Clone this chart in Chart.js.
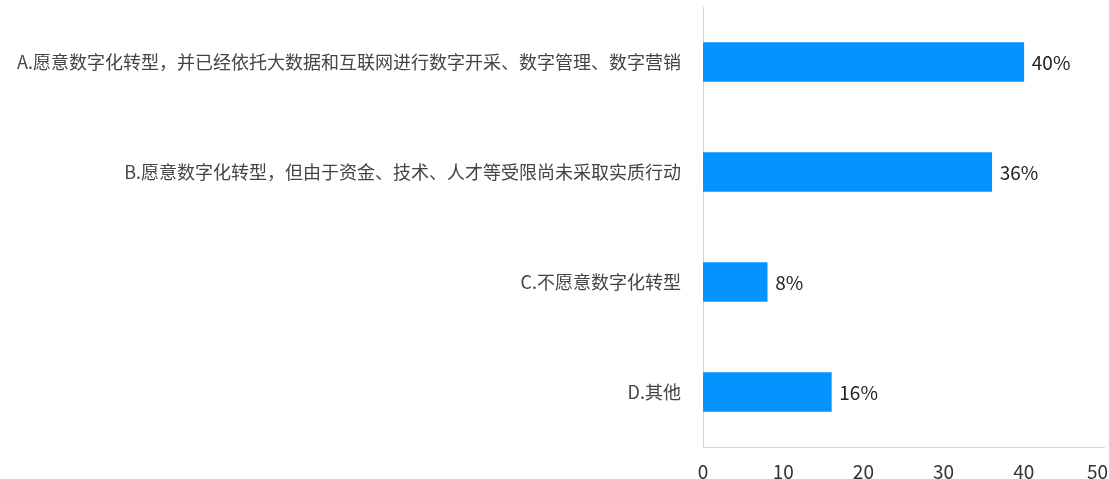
<!DOCTYPE html>
<html>
<head>
<meta charset="utf-8">
<script src="https://cdn.jsdelivr.net/npm/chart.js@4"></script>
<style>
  html, body { margin: 0; padding: 0; background: #fff; }
  #wrap { width: 1109px; height: 479px; position: relative; }
</style>
</head>
<body>
<div id="wrap"><canvas id="c" width="1109" height="479"></canvas></div>
<script>
// Survey answers (percent of respondents)
const categories = [
  'A.愿意数字化转型，并已经依托大数据和互联网进行数字开采、数字管理、数字营销',
  'B.愿意数字化转型，但由于资金、技术、人才等受限尚未采取实质行动',
  'C.不愿意数字化转型',
  'D.其他'
];
const shares = [40, 36, 8, 16];
const xTicks = [0, 10, 20, 30, 40, 50];

const FONT = '"Noto Sans CJK SC", "Noto Sans", sans-serif';
const AXIS_LINE = '#ccd6eb';

// Writes "NN%" just right of each bar end
const valueLabels = {
  id: 'valueLabels',
  afterDatasetsDraw(chart) {
    const ctx = chart.ctx;
    const meta = chart.getDatasetMeta(0);
    ctx.save();
    ctx.font = '19px ' + FONT;
    ctx.fillStyle = '#222';
    ctx.textAlign = 'left';
    ctx.textBaseline = 'middle';
    meta.data.forEach((bar, i) => {
      ctx.fillText(shares[i] + '%', bar.x + 8, bar.y + 1);
    });
    ctx.restore();
  }
};

new Chart(document.getElementById('c'), {
  type: 'bar',
  data: {
    labels: categories,
    datasets: [{
      data: shares,
      backgroundColor: '#0593ff',
      borderWidth: 0,
      barThickness: 39
    }]
  },
  options: {
    indexAxis: 'y',
    responsive: false,
    animation: false,
    layout: { padding: { top: 7, right: 5, left: 0, bottom: 0 } },
    plugins: { legend: { display: false }, tooltip: { enabled: false } },
    scales: {
      x: {
        min: 0,
        max: 50,
        afterBuildTicks(scale) { scale.ticks = xTicks.map(v => ({ value: v })); },
        afterFit(scale) { scale.height = 32; scale.paddingLeft = 0; scale.paddingRight = 0; },
        grid: { display: false, drawTicks: false },
        border: { display: true, color: AXIS_LINE, width: 1 },
        ticks: {
          font: { family: FONT, size: 19 }, color: '#333', padding: 13, maxRotation: 0,
          // keep the last label inside the canvas edge
          callback: (v, i, arr) => (i === arr.length - 1 ? v + '   ' : String(v))
        }
      },
      y: {
        afterFit(scale) { scale.width = 703; scale.paddingTop = 0; scale.paddingBottom = 0; },
        grid: { display: false, drawTicks: false },
        border: { display: true, color: AXIS_LINE, width: 1 },
        ticks: { font: { family: FONT, size: 18 }, color: '#444', padding: 22 }
      }
    }
  },
  plugins: [valueLabels]
});
</script>
</body>
</html>
